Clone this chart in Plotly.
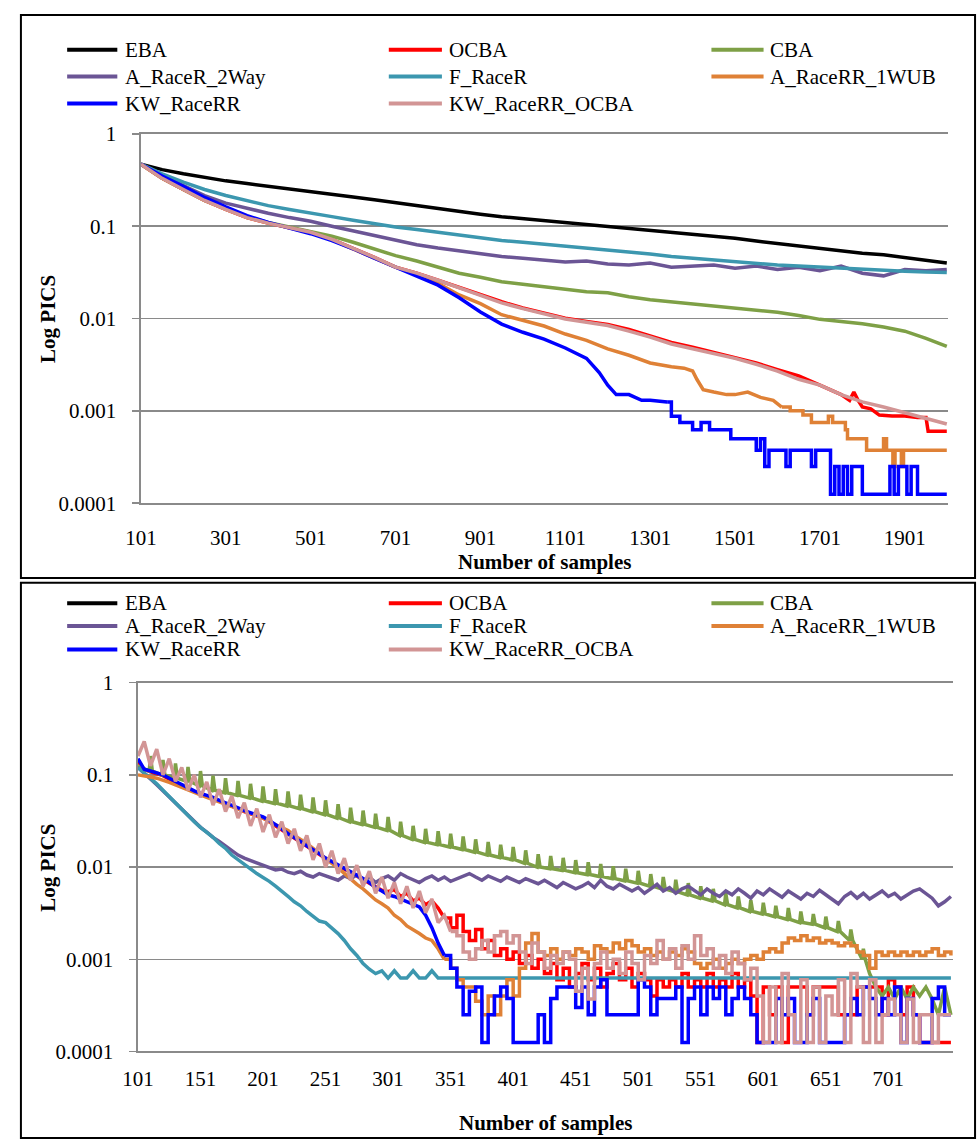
import plotly.graph_objects as go

W, H = 978, 1147

# ---------------- series names / colours ----------------
SERIES = ["EBA", "OCBA", "CBA", "A_RaceR_2Way", "F_RaceR",
          "A_RaceRR_1WUB", "KW_RaceRR", "KW_RaceRR_OCBA"]
COLORS = {
    "EBA": "#000000",
    "OCBA": "#FF0000",
    "CBA": "#7EA046",
    "A_RaceR_2Way": "#6B5595",
    "F_RaceR": "#3C97AF",
    "A_RaceRR_1WUB": "#DF8136",
    "KW_RaceRR": "#0000FF",
    "KW_RaceRR_OCBA": "#D29595",
}

# ---------------- upper chart: samples 101..2000 ----------------
top_x = [101, 151, 201, 251, 301, 351, 401, 451, 501, 551, 601, 651, 701, 751, 801, 851,
         901, 951, 1001, 1051, 1101, 1151, 1201, 1251, 1301, 1351, 1401, 1451, 1501, 1551,
         1601, 1651, 1701, 1751, 1801, 1851, 1901, 1951, 2000]

top_eba = [0.47, 0.41, 0.37, 0.335, 0.31, 0.29, 0.27, 0.252, 0.238, 0.222,
           0.207, 0.194, 0.18, 0.166, 0.156, 0.146, 0.135, 0.127, 0.121, 0.116,
           0.111, 0.106, 0.101, 0.096, 0.091, 0.087, 0.083, 0.078, 0.074, 0.069,
           0.065, 0.061, 0.057, 0.054, 0.051, 0.049, 0.046, 0.043, 0.040]

top_cba = [0.47, 0.33, 0.25, 0.19, 0.155, 0.127, 0.110, 0.098, 0.088, 0.078,
           0.067, 0.057, 0.048, 0.042, 0.036, 0.031, 0.028, 0.025, 0.0235, 0.022,
           0.0205, 0.0195, 0.019, 0.0172, 0.016, 0.0152, 0.0145, 0.0138, 0.0132, 0.0125,
           0.0117, 0.0108, 0.0098, 0.0093, 0.0088, 0.0081, 0.0073, 0.0061, 0.0050]

top_a2way = [0.47, 0.355, 0.275, 0.215, 0.178, 0.155, 0.138, 0.124, 0.113, 0.100,
             0.089, 0.079, 0.070, 0.063, 0.058, 0.054, 0.050, 0.047, 0.045, 0.043,
             0.041, 0.042, 0.039, 0.038, 0.040, 0.036, 0.037, 0.038, 0.035, 0.037,
             0.034, 0.036, 0.033, 0.037, 0.031, 0.029, 0.034, 0.033, 0.034]

top_fracer = [0.47, 0.37, 0.30, 0.25, 0.215, 0.188, 0.167, 0.152, 0.140, 0.127,
              0.116, 0.106, 0.098, 0.092, 0.086, 0.080, 0.075, 0.070, 0.067, 0.064,
              0.061, 0.058, 0.056, 0.053, 0.050, 0.047, 0.045, 0.043, 0.041, 0.039,
              0.038, 0.037, 0.036, 0.035, 0.034, 0.033, 0.0325, 0.032, 0.0315]

top_kwocba = [0.47, 0.33, 0.25, 0.19, 0.152, 0.124, 0.108, 0.096, 0.086, 0.072,
              0.058, 0.046, 0.036, 0.031, 0.026, 0.0215, 0.0178, 0.0148, 0.0128, 0.0112,
              0.0099, 0.0091, 0.0084, 0.0073, 0.0063, 0.0053, 0.0047, 0.0042, 0.0037, 0.0032,
              0.0027, 0.0022, 0.0019, 0.0015, 0.00125, 0.0011, 0.00095, 0.00082, 0.00072]

top_ocba_x = [101, 151, 201, 251, 301, 351, 401, 451, 501, 551, 601, 651, 701, 751, 801, 851,
              901, 951, 1001, 1051, 1101, 1151, 1201, 1251, 1301, 1351, 1401, 1451, 1501, 1551,
              1601, 1651, 1701, 1751, 1771, 1781, 1791, 1801, 1821, 1841, 1871, 1901, 1931,
              1951, 1956, 2000]
top_ocba = [0.47, 0.33, 0.25, 0.19, 0.152, 0.124, 0.108, 0.096, 0.086, 0.072,
            0.058, 0.046, 0.036, 0.031, 0.026, 0.0218, 0.018, 0.0152, 0.0130, 0.0114,
            0.0101, 0.0093, 0.0086, 0.0076, 0.0065, 0.0055, 0.0049, 0.0043, 0.0038, 0.0033,
            0.0028, 0.0024, 0.0019, 0.0015, 0.0013, 0.0016, 0.0013, 0.0011, 0.00105, 0.0009,
            0.00088, 0.00088, 0.00085, 0.00085, 0.0006, 0.0006]

top_1wub_x = [101, 151, 201, 251, 301, 351, 401, 451, 501, 551, 601, 651, 701, 751, 801, 851,
              901, 951, 1001, 1051, 1101, 1151, 1201, 1251, 1301, 1351, 1381, 1401, 1411, 1426,
              1451, 1481, 1501, 1531, 1561, 1591, 1611]
top_1wub = [0.47, 0.33, 0.25, 0.19, 0.152, 0.124, 0.108, 0.096, 0.085, 0.071,
            0.057, 0.045, 0.036, 0.030, 0.024, 0.018, 0.0145, 0.011, 0.0095, 0.0083,
            0.0068, 0.0058, 0.0047, 0.0040, 0.0033, 0.0030, 0.0029, 0.0027, 0.0022, 0.0017,
            0.0016, 0.0015, 0.0015, 0.0016, 0.0014, 0.0013, 0.0011]
top_1wub_tail_x = [1611, 1631, 1661, 1681, 1721, 1731, 1761, 1766, 1811, 1851, 1858, 1873,
                   1878, 1893, 1898, 2000]
top_1wub_tail = [0.0011, 0.0010, 0.0009, 0.00075, 0.000875, 0.00075, 0.000625, 0.0005,
                 0.000375, 0.0005, 0.000375, 0.00025, 0.000375, 0.00025, 0.000375, 0.000375]

top_kw_x = [101, 151, 201, 251, 301, 351, 401, 451, 501, 551, 601, 651, 701, 751, 801, 851,
            901, 951, 1001, 1051, 1101, 1151, 1181, 1201, 1221, 1251, 1281, 1301, 1341]
top_kw = [0.47, 0.35, 0.27, 0.205, 0.162, 0.13, 0.11, 0.095, 0.083, 0.070,
          0.057, 0.045, 0.036, 0.029, 0.023, 0.0168, 0.0118, 0.0087, 0.0071, 0.0060,
          0.0048, 0.0037, 0.0026, 0.0019, 0.0015, 0.0015, 0.0013, 0.0013, 0.00125]
top_kw_tail_x = [1341, 1351, 1371, 1401, 1421, 1441, 1491, 1551, 1561, 1571, 1581, 1621,
                 1631, 1681, 1691, 1726, 1736, 1746, 1756, 1766, 1776, 1801, 1866, 1876,
                 1886, 1906, 1916, 1931, 2000]
top_kw_tail = [0.00125, 0.000875, 0.00075, 0.000625, 0.00075, 0.000625, 0.0005, 0.000375,
               0.0005, 0.00025, 0.000375, 0.00025, 0.000375, 0.00025, 0.000375, 0.000125,
               0.00025, 0.000125, 0.00025, 0.000125, 0.00025, 0.000125, 0.00025, 0.000125,
               0.00025, 0.000125, 0.00025, 0.000125, 0.000125]

top_ticks = [101, 301, 501, 701, 901, 1101, 1301, 1501, 1701, 1901]

# ---------------- lower chart: samples 101..751, every 5th sample ----------------
bot_kw = [0.15, 0.115, 0.11, 0.105, 0.10, 0.092, 0.085, 0.078, 0.072, 0.067,
          0.063, 0.060, 0.057, 0.053, 0.050, 0.047, 0.044, 0.041, 0.039, 0.037,
          0.035, 0.032, 0.029, 0.026, 0.023, 0.021, 0.019, 0.017, 0.0155, 0.014,
          0.0125, 0.0115, 0.0105, 0.0098, 0.0090, 0.0082, 0.0075, 0.0068, 0.0060, 0.0055,
          0.0050, 0.0048, 0.0045, 0.0042, 0.0040, 0.0037, 0.0030, 0.0022, 0.0015, 0.0011,
          0.0008, 0.0005, 0.00025, 0.00045, 0.0005, 0.000125, 0.00025, 0.0004, 0.0005, 0.000375,
          0.000125, 0.000125, 0.000125, 0.000125, 0.00025, 0.000125, 0.000375, 0.0005, 0.0005, 0.0005,
          0.0003, 0.0005, 0.00025, 0.0005, 0.0006, 0.00025, 0.00025, 0.00025, 0.00025, 0.00025,
          0.0006, 0.0005, 0.00025, 0.000375, 0.000375, 0.000375, 0.0005, 0.000125, 0.000375, 0.0005,
          0.00025, 0.0005, 0.000375, 0.0005, 0.00025, 0.000375, 0.0005, 0.000375, 0.00025, 0.000125,
          0.000125, 0.000125, 0.000375, 0.00025, 0.000375, 0.000125, 0.000125, 0.00025, 0.000375, 0.000125,
          0.000125, 0.000125, 0.000125, 0.00025, 0.000375, 0.00025, 0.0005, 0.000375, 0.00025, 0.000375,
          0.00025, 0.0005, 0.000125, 0.000375, 0.00025, 0.000125, 0.000125, 0.000375, 0.0005, 0.00025,
          0.00025]

bot_ocba = [0.14, 0.115, 0.108, 0.103, 0.098, 0.090, 0.083, 0.077, 0.071, 0.066,
            0.062, 0.059, 0.056, 0.052, 0.049, 0.046, 0.043, 0.040, 0.038, 0.036,
            0.034, 0.031, 0.028, 0.025, 0.0225, 0.0205, 0.0185, 0.0165, 0.015, 0.0135,
            0.0122, 0.0112, 0.0102, 0.0095, 0.0088, 0.0080, 0.0073, 0.0066, 0.0060, 0.0056,
            0.0054, 0.0057, 0.0048, 0.0052, 0.0043, 0.0046, 0.0039, 0.0043, 0.0036, 0.0028,
            0.0022, 0.0030, 0.0020, 0.0016, 0.0021, 0.0013, 0.0016, 0.0011, 0.0013, 0.0010,
            0.0012, 0.0009, 0.0011, 0.0008, 0.0010, 0.0007, 0.0009, 0.0006, 0.0008, 0.0005,
            0.0007, 0.0009, 0.0006, 0.0008, 0.0005, 0.0007, 0.0009, 0.0006, 0.0008, 0.0005,
            0.0007, 0.0006, 0.0004, 0.0006, 0.0005, 0.0006, 0.0005, 0.0007, 0.0005, 0.0006,
            0.0005, 0.0007, 0.0005, 0.0006, 0.0005, 0.0007, 0.0005, 0.0006, 0.0004, 0.000125,
            0.0005, 0.00025, 0.0005, 0.000125, 0.0005, 0.0005, 0.0005, 0.00025, 0.0005, 0.0005,
            0.0005, 0.0005, 0.00025, 0.00025, 0.00025, 0.0005, 0.0005, 0.0005, 0.0005, 0.00025,
            0.0006, 0.0005, 0.00025, 0.0005, 0.00025, 0.000125, 0.000125, 0.000125, 0.000125, 0.000125,
            0.000125]

bot_1wub = [0.10, 0.098, 0.095, 0.092, 0.088, 0.083, 0.078, 0.073, 0.068, 0.064,
            0.060, 0.057, 0.054, 0.051, 0.048, 0.045, 0.043, 0.040, 0.038, 0.036,
            0.034, 0.031, 0.029, 0.027, 0.025, 0.022, 0.020, 0.018, 0.016, 0.014,
            0.0125, 0.011, 0.0098, 0.0085, 0.0075, 0.0065, 0.0058, 0.0050, 0.0044, 0.0040,
            0.0036, 0.0030, 0.0027, 0.0023, 0.0021, 0.0019, 0.0017, 0.0016, 0.0013, 0.0010,
            0.0008, 0.0006, 0.0005, 0.0005, 0.00035, 0.00025, 0.0004, 0.00025, 0.0004, 0.0006,
            0.0004, 0.0008, 0.0015, 0.0019, 0.0012, 0.0011, 0.0013, 0.0010, 0.0012, 0.0011,
            0.0013, 0.0012, 0.0010, 0.0014, 0.0013, 0.0012, 0.0015, 0.0013, 0.0016, 0.0014,
            0.0012, 0.0013, 0.0011, 0.0012, 0.0010, 0.0012, 0.0011, 0.0013, 0.0012, 0.0009,
            0.0008, 0.0009, 0.0010, 0.0008, 0.0009, 0.0010, 0.0009, 0.0010, 0.0011, 0.0010,
            0.0012, 0.0013, 0.0012, 0.0015, 0.0017, 0.0016, 0.0018, 0.0016, 0.0017, 0.0015,
            0.0016, 0.0015, 0.0014, 0.0015, 0.0014, 0.0012, 0.0011, 0.0008, 0.0012, 0.0011,
            0.0012, 0.0011, 0.0012, 0.0011, 0.0012, 0.0011, 0.0012, 0.0013, 0.0011, 0.0012,
            0.0011]

bot_kwocba = [0.16, 0.23, 0.125, 0.19, 0.10, 0.15, 0.085, 0.12, 0.068, 0.10,
              0.057, 0.084, 0.047, 0.070, 0.040, 0.059, 0.034, 0.050, 0.028, 0.043,
              0.024, 0.037, 0.021, 0.031, 0.018, 0.026, 0.015, 0.022, 0.012, 0.018,
              0.010, 0.015, 0.0085, 0.0125, 0.0072, 0.0105, 0.0062, 0.0090, 0.0052, 0.0078,
              0.0046, 0.0068, 0.0040, 0.0062, 0.0036, 0.0055, 0.0032, 0.0045, 0.0025, 0.0030,
              0.0020, 0.0018, 0.0012, 0.0010, 0.0013, 0.0016, 0.0012, 0.0018, 0.0020, 0.0015,
              0.0018, 0.0012, 0.0009, 0.0015, 0.0012, 0.0008, 0.0011, 0.0009, 0.0012, 0.0010,
              0.00045, 0.0008, 0.00037, 0.0009, 0.0012, 0.0008, 0.0010, 0.0007, 0.0012, 0.0009,
              0.0006, 0.0011, 0.0009, 0.0016, 0.0010, 0.0013, 0.0008, 0.0014, 0.0010, 0.0018,
              0.0011, 0.0013, 0.0008, 0.0011, 0.0007, 0.0012, 0.0009, 0.0006, 0.0008, 0.0004,
              0.000125, 0.0005, 0.000125, 0.0007, 0.00025, 0.000125, 0.0006, 0.000125, 0.0005, 0.000125,
              0.0004, 0.00025, 0.0006, 0.000125, 0.0007, 0.0005, 0.000125, 0.0006, 0.000125, 0.00025,
              0.00037, 0.00025, 0.000125, 0.00037, 0.000125, 0.00025, 0.00025, 0.000125, 0.00025, 0.00025,
              0.00025]

bot_a2way = [0.12, 0.105, 0.09, 0.078, 0.067, 0.057, 0.049, 0.042, 0.036, 0.031,
             0.027, 0.024, 0.021, 0.019, 0.017, 0.015, 0.0135, 0.0125, 0.0118, 0.011,
             0.0105, 0.0098, 0.0093, 0.0095, 0.0088, 0.0085, 0.0090, 0.0082, 0.0078, 0.0085,
             0.0080, 0.0076, 0.0072, 0.0080, 0.0075, 0.0082, 0.0070, 0.0078, 0.0068, 0.0075,
             0.0080, 0.0072, 0.0085, 0.0078, 0.0072, 0.0068, 0.0075, 0.0080, 0.0072, 0.0078,
             0.0070, 0.0075, 0.0080, 0.0085, 0.0078, 0.0072, 0.0080, 0.0075, 0.0070, 0.0078,
             0.0072, 0.0068, 0.0075, 0.0070, 0.0066, 0.0072, 0.0065, 0.0060, 0.0068, 0.0063,
             0.0058, 0.0062, 0.0068, 0.0060, 0.0072, 0.0062, 0.0058, 0.0065, 0.0060, 0.0055,
             0.0060, 0.0052, 0.0058, 0.0065, 0.0055, 0.0060, 0.0052, 0.0058, 0.0062, 0.0055,
             0.0050, 0.0058, 0.0052, 0.0048, 0.0055, 0.0050, 0.0058, 0.0052, 0.0046, 0.0055,
             0.0050, 0.0058, 0.0052, 0.0047, 0.0055, 0.0050, 0.0045, 0.0052, 0.0048, 0.0056,
             0.0050, 0.0045, 0.0040, 0.0048, 0.0053, 0.0046, 0.0052, 0.0045, 0.0050, 0.0055,
             0.0048, 0.0052, 0.0045, 0.0050, 0.0055, 0.0058, 0.0052, 0.0046, 0.0038, 0.0042,
             0.0048]

bot_fracer_x = [101, 106, 111, 116, 121, 126, 131, 136, 141, 146,
                151, 156, 161, 166, 171, 176, 181, 186, 191, 196,
                201, 206, 211, 216, 221, 226, 231, 236, 241, 246,
                251, 256, 261, 266, 271, 276, 281, 286, 291, 296,
                301, 306, 311, 316, 321, 326, 331, 336, 341, 346, 751]
bot_fracer = [0.12, 0.105, 0.092, 0.080, 0.068, 0.058, 0.049, 0.042, 0.036, 0.031,
              0.027, 0.024, 0.021, 0.018, 0.016, 0.0135, 0.012, 0.0105, 0.0095, 0.0085,
              0.0077, 0.0070, 0.0062, 0.0055, 0.0048, 0.0042, 0.0038, 0.0033, 0.0029, 0.0026,
              0.0025, 0.0022, 0.0019, 0.0016, 0.0013, 0.0011, 0.0009, 0.00078, 0.0007, 0.00075,
              0.000625, 0.00075, 0.000625, 0.000625, 0.00075, 0.000625, 0.000625, 0.00075, 0.000625,
              0.000625, 0.000625]

# CBA in the lower chart: a sawtooth, one spike every 10 samples (111, 121, ... 681)
bot_cba_spike_x = [111, 121, 131, 141, 151, 161, 171, 181, 191, 201,
                   211, 221, 231, 241, 251, 261, 271, 281, 291, 301,
                   311, 321, 331, 341, 351, 361, 371, 381, 391, 401,
                   411, 421, 431, 441, 451, 461, 471, 481, 491, 501,
                   511, 521, 531, 541, 551, 561, 571, 581, 591, 601,
                   611, 621, 631, 641, 651, 661, 671, 681]
bot_cba_base = [0.11, 0.10, 0.092, 0.085, 0.076, 0.068, 0.064, 0.060, 0.056, 0.052,
                0.049, 0.046, 0.043, 0.040, 0.037, 0.034, 0.031, 0.029, 0.027, 0.025,
                0.022, 0.020, 0.0185, 0.0175, 0.0165, 0.0155, 0.0145, 0.0135, 0.0127, 0.012,
                0.011, 0.010, 0.0096, 0.0092, 0.0087, 0.0083, 0.0079, 0.0075, 0.0071, 0.0067,
                0.0062, 0.0058, 0.0054, 0.0050, 0.0046, 0.0043, 0.0039, 0.0036, 0.0033, 0.0031,
                0.0029, 0.0027, 0.0025, 0.0024, 0.0022, 0.0020, 0.0016, 0.0010]
bot_cba_peak = [0.16, 0.145, 0.133, 0.122, 0.11, 0.098, 0.092, 0.086, 0.080, 0.075,
                0.070, 0.066, 0.061, 0.057, 0.053, 0.048, 0.044, 0.041, 0.038, 0.035,
                0.031, 0.028, 0.026, 0.0245, 0.023, 0.0215, 0.020, 0.0187, 0.0175, 0.0165,
                0.0152, 0.0138, 0.0132, 0.0126, 0.0119, 0.0113, 0.0108, 0.0102, 0.0096, 0.0091,
                0.0084, 0.0078, 0.0073, 0.0067, 0.0062, 0.0058, 0.0052, 0.0048, 0.0044, 0.0041,
                0.0038, 0.0036, 0.0033, 0.0031, 0.0029, 0.0026, 0.0021, 0.0013]
bot_cba_start = 0.125
bot_cba_tail_x = [686, 691, 696, 701, 706, 711, 716, 721, 726, 731, 736, 741, 746, 751]
bot_cba_tail = [0.0007, 0.0005, 0.0004, 0.0005, 0.00037, 0.0005, 0.00037, 0.0005, 0.0004,
                0.0005, 0.00037, 0.00025, 0.0005, 0.00025]

bot_ticks = [101, 151, 201, 251, 301, 351, 401, 451, 501, 551, 601, 651, 701]

y_ticks = [1, 0.1, 0.01, 0.001, 0.0001]
y_ticktext = ["1", "0.1", "0.01", "0.001", "0.0001"]

# ---------------- drawing ----------------
FONT = "Liberation Serif"
GRID = "#8a8a8a"
LW = 3.5

fig = go.Figure()


def add_line(xs, ys, name, xa, ya, shape="linear"):
    fig.add_trace(go.Scatter(
        x=xs, y=ys, mode="lines", name=name, showlegend=False, hoverinfo="skip",
        line=dict(color=COLORS[name], width=LW, shape=shape),
        xaxis=xa, yaxis=ya))


def grid5(values):
    return [101 + 5 * i for i in range(len(values))]


def split(xs, ys, at):
    i = xs.index(at)
    return (xs[:i + 1], ys[:i + 1]), (xs[i:], ys[i:])


# upper chart (series order decides stacking, last on top)
add_line(top_x, top_eba, "EBA", "x", "y")
add_line(top_ocba_x, top_ocba, "OCBA", "x", "y")
add_line(top_x, top_cba, "CBA", "x", "y")
add_line(top_x, top_a2way, "A_RaceR_2Way", "x", "y")
add_line(top_x, top_fracer, "F_RaceR", "x", "y")
add_line(top_1wub_x, top_1wub, "A_RaceRR_1WUB", "x", "y")
add_line(top_1wub_tail_x, top_1wub_tail, "A_RaceRR_1WUB", "x", "y", "hv")
add_line(top_kw_x, top_kw, "KW_RaceRR", "x", "y")
add_line(top_kw_tail_x, top_kw_tail, "KW_RaceRR", "x", "y", "hv")
add_line(top_x, top_kwocba, "KW_RaceRR_OCBA", "x", "y")

# lower chart
(ox1, oy1), (ox2, oy2) = split(grid5(bot_ocba), bot_ocba, 346)
add_line(ox1, oy1, "OCBA", "x2", "y2")
add_line(ox2, oy2, "OCBA", "x2", "y2", "hv")

cba_x, cba_y = [101], [bot_cba_start]
for s, b, p in zip(bot_cba_spike_x, bot_cba_base, bot_cba_peak):
    cba_x += [s - 1, s, s + 1.5]
    cba_y += [b, p, b]
cba_x += bot_cba_tail_x
cba_y += bot_cba_tail
add_line(cba_x, cba_y, "CBA", "x2", "y2")

add_line(grid5(bot_a2way), bot_a2way, "A_RaceR_2Way", "x2", "y2")
add_line(bot_fracer_x, bot_fracer, "F_RaceR", "x2", "y2")

(ax1, ay1), (ax2, ay2) = split(grid5(bot_1wub), bot_1wub, 346)
add_line(ax1, ay1, "A_RaceRR_1WUB", "x2", "y2")
add_line(ax2, ay2, "A_RaceRR_1WUB", "x2", "y2", "hv")

(kx1, ky1), (kx2, ky2) = split(grid5(bot_kw), bot_kw, 346)
add_line(kx1, ky1, "KW_RaceRR", "x2", "y2")
add_line(kx2, ky2, "KW_RaceRR", "x2", "y2", "hv")

(px1, py1), (px2, py2) = split(grid5(bot_kwocba), bot_kwocba, 351)
add_line(px1, py1, "KW_RaceRR_OCBA", "x2", "y2")
add_line(px2, py2, "KW_RaceRR_OCBA", "x2", "y2", "hv")


def fx(p):
    return p / W


def fy(p):
    return 1 - p / H


tick_font = dict(family=FONT, size=21, color="#000000")

xaxis_common = dict(
    type="linear", showgrid=False, zeroline=False, showline=True, linecolor=GRID,
    linewidth=1.5, ticks="", tickfont=tick_font, mirror=True, fixedrange=True)
yaxis_common = dict(
    type="log", range=[-4, 0], tickvals=y_ticks, ticktext=y_ticktext, showgrid=True,
    gridcolor=GRID, gridwidth=1.5, zeroline=False, showline=True, linecolor=GRID,
    linewidth=1.5, ticks="outside", ticklen=7, tickwidth=1.5, tickcolor=GRID,
    tickfont=tick_font, ticklabelstandoff=12, fixedrange=True)

fig.update_layout(
    width=W, height=H, autosize=False,
    margin=dict(l=0, r=0, t=0, b=0),
    paper_bgcolor="#ffffff", plot_bgcolor="#ffffff",
    showlegend=False,
    font=dict(family=FONT),
    xaxis=dict(xaxis_common, domain=[fx(127), fx(948)], range=[101, 2004], anchor="y",
               tickvals=top_ticks, ticktext=[str(t) for t in top_ticks], ticklabelstandoff=15),
    yaxis=dict(yaxis_common, domain=[fy(501.7), fy(124.5)], anchor="x"),
    xaxis2=dict(xaxis_common, domain=[fx(124), fx(953)], range=[101, 753], anchor="y2",
                tickvals=bot_ticks, ticktext=[str(t) for t in bot_ticks], ticklabelstandoff=8),
    yaxis2=dict(yaxis_common, domain=[fy(1061.7), fy(685)], anchor="x2"),
)

shapes = []
annotations = []

# panel frames
for y0, y1 in [(3, 578), (583, 1150)]:
    shapes.append(dict(type="rect", xref="paper", yref="paper",
                       x0=fx(5), x1=fx(975), y0=fy(y1), y1=fy(y0),
                       line=dict(color="#000000", width=2), fillcolor="rgba(0,0,0,0)"))

# legends (three columns, series order row by row)
col_line = [(52, 103), (379, 433), (707, 760)]
col_text = [109, 438, 765]
legend_rows = {"top": [38.5, 66, 93.5], "bottom": [604, 627, 651]}
for panel, rows in legend_rows.items():
    for i, name in enumerate(SERIES):
        r, c = divmod(i, 3)
        yy = rows[r]
        shapes.append(dict(type="line", xref="paper", yref="paper",
                           x0=fx(col_line[c][0]), x1=fx(col_line[c][1]), y0=fy(yy), y1=fy(yy),
                           line=dict(color=COLORS[name], width=4)))
        annotations.append(dict(xref="paper", yref="paper", x=fx(col_text[c]), y=fy(yy),
                                text=name, showarrow=False, xanchor="left", yanchor="middle",
                                font=dict(family=FONT, size=21, color="#000000")))

# axis titles
title_font = dict(family=FONT, size=21, color="#000000")
for yc in (313, 873.5):
    annotations.append(dict(xref="paper", yref="paper", x=fx(33), y=fy(yc),
                            text="<b>Log PICS</b>", showarrow=False, textangle=-90,
                            xanchor="center", yanchor="middle", font=title_font))
for xc, yc in ((537.5, 562), (538.5, 1135)):
    annotations.append(dict(xref="paper", yref="paper", x=fx(xc), y=fy(yc),
                            text="<b>Number of samples</b>", showarrow=False,
                            xanchor="center", yanchor="middle", font=title_font))

fig.update_layout(shapes=shapes, annotations=annotations)

fig.write_html("out.html", config={"displayModeBar": False, "staticPlot": True})
